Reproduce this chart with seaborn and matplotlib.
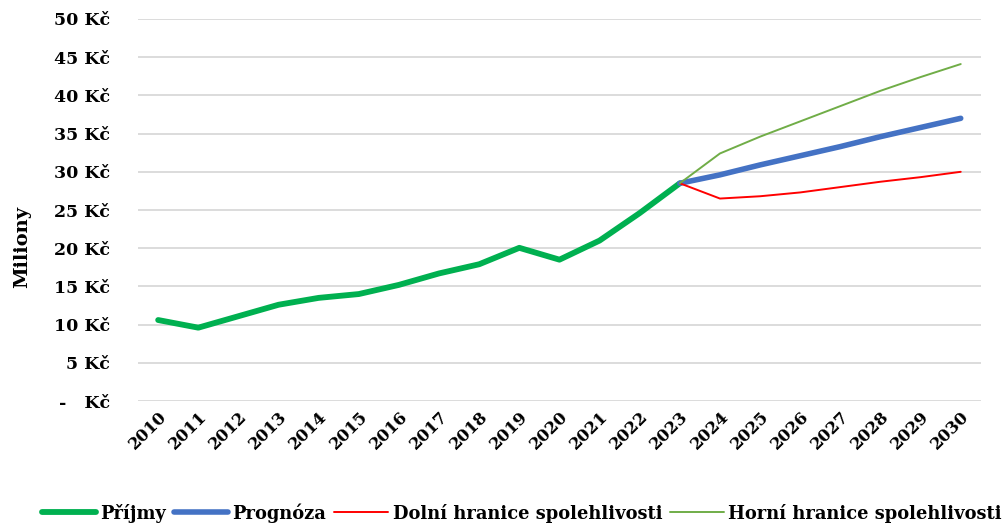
import matplotlib
matplotlib.use("Agg")
import matplotlib.pyplot as plt
import seaborn as sns
import pandas as pd

# Revenue history and forecast (millions CZK)
years_hist = list(range(2010, 2024))
prijmy = [10.6, 9.6, 11.1, 12.6, 13.5, 14.0, 15.2, 16.7, 17.9, 20.05, 18.5, 21.0, 24.6, 28.5]

years_fc = list(range(2023, 2031))
prognoza = [28.5, 29.6, 30.9, 32.1, 33.3, 34.6, 35.8, 37.0]
dolni = [28.5, 26.5, 26.8, 27.3, 28.0, 28.7, 29.3, 30.0]
horni = [28.5, 32.4, 34.6, 36.6, 38.6, 40.6, 42.4, 44.1]

all_years = list(range(2010, 2031))
y_ticks = [0, 5, 10, 15, 20, 25, 30, 35, 40, 45, 50]
y_tick_labels = ["-   Kč"] + [f"{v} Kč" for v in y_ticks[1:]]

sns.set_theme(style="white")
plt.rcParams["font.family"] = ["DejaVu Serif"]
plt.rcParams["font.weight"] = "bold"
plt.rcParams["text.color"] = "black"
plt.rcParams["axes.labelcolor"] = "black"
plt.rcParams["xtick.color"] = "black"
plt.rcParams["ytick.color"] = "black"

fig = plt.figure(figsize=(10.08, 5.26), dpi=100)
ax = fig.add_axes([0.137, 0.2376, 0.836, 0.7263])

hist = pd.DataFrame({"rok": years_hist, "hodnota": prijmy})
fc = pd.DataFrame({"rok": years_fc, "Prognóza": prognoza,
                   "Dolní": dolni, "Horní": horni})

sns.lineplot(data=hist, x="rok", y="hodnota", ax=ax, color="#00B050",
             linewidth=4.2, label="Příjmy", solid_capstyle="round")
sns.lineplot(data=fc, x="rok", y="Prognóza", ax=ax, color="#4472C4",
             linewidth=4.0, label="Prognóza", solid_capstyle="round")
sns.lineplot(data=fc, x="rok", y="Dolní", ax=ax, color="#FF0000",
             linewidth=1.4, label="Dolní hranice spolehlivosti")
sns.lineplot(data=fc, x="rok", y="Horní", ax=ax, color="#70AD47",
             linewidth=1.4, label="Horní hranice spolehlivosti")

ax.set_xlim(2009.5, 2030.5)
ax.set_ylim(0, 50)
ax.set_yticks(y_ticks)
ax.set_yticklabels(y_tick_labels, fontsize=12.5, fontweight="bold")
ax.set_xticks(all_years)
ax.set_xticklabels([str(y) for y in all_years], rotation=45, ha="right",
                   rotation_mode="anchor", fontsize=12, fontweight="bold")
ax.tick_params(axis="both", length=0)
ax.tick_params(axis="y", pad=20)
ax.tick_params(axis="x", pad=5)
ax.yaxis.grid(True, color="#D9D9D9", linewidth=1.3)
ax.set_axisbelow(True)
for s in ax.spines.values():
    s.set_visible(False)
ax.set_xlabel("")
ax.set_ylabel("Miliony", fontsize=14, fontweight="bold")
ax.yaxis.set_label_coords(-0.127, 0.403)

handles, labels = ax.get_legend_handles_labels()
ax.get_legend().remove()
fig.legend(handles, labels, loc="center", bbox_to_anchor=(0.518, 0.025),
           ncol=4, frameon=False, handlelength=3.0,
           handletextpad=0.25, columnspacing=0.45, borderaxespad=0,
           borderpad=0, prop={"weight": "bold", "size": 12.9})

fig.savefig("out.png", dpi=100)
